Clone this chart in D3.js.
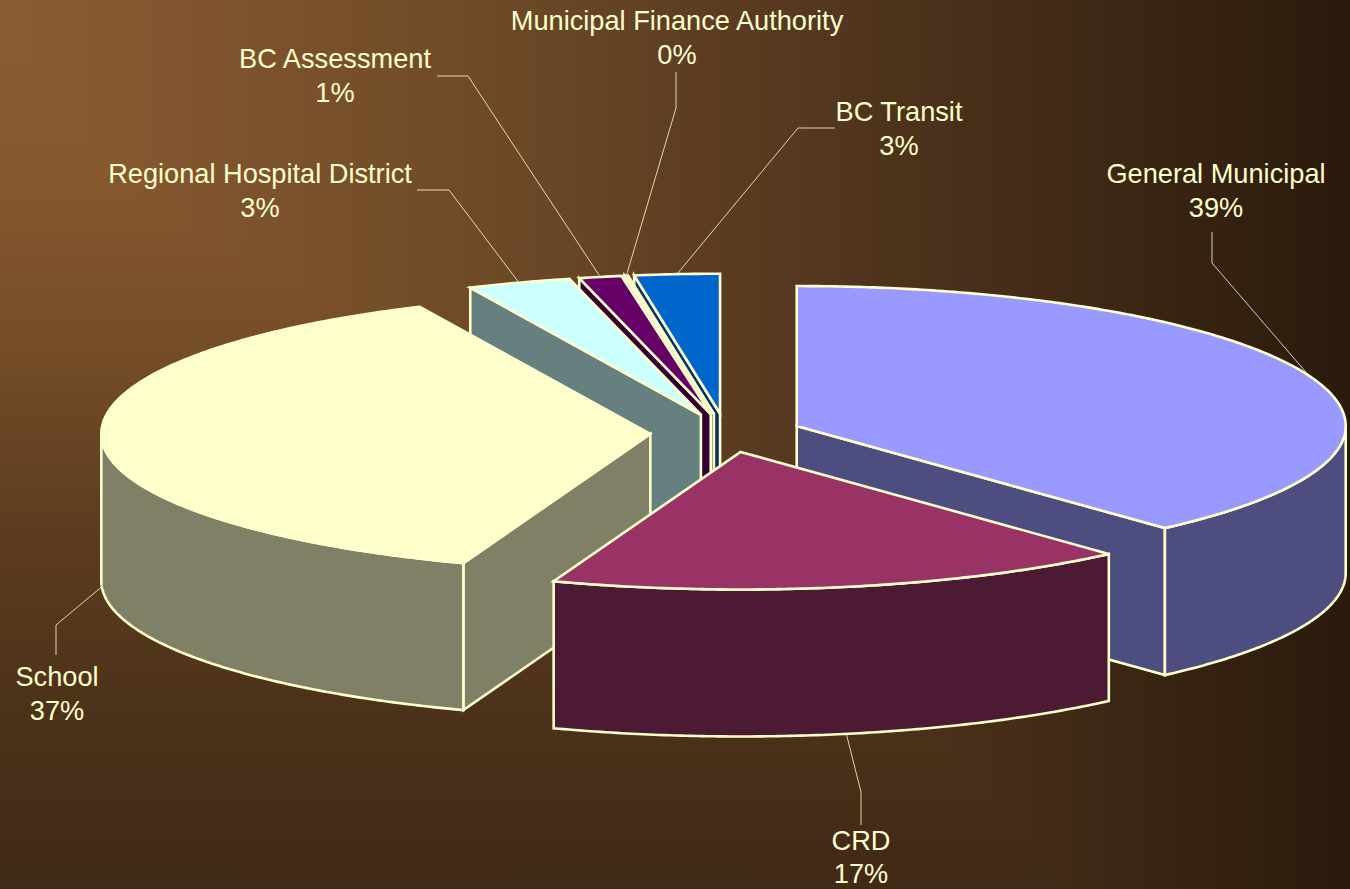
<!doctype html>
<html lang="en">

<head>
  <meta charset="utf-8">
  <title>Property tax distribution</title>
  <style>
    html, body {
      margin: 0;
      padding: 0;
      width: 1350px;
      height: 889px;
      overflow: hidden;
    }

    /* corner gradient: darken of a horizontal and a vertical ramp */
    body {
      background-image:
        linear-gradient(to right, rgb(140,92,50) 0%, rgb(112,75,40) 34%, rgb(85,56,32) 59%, rgb(70,45,24) 74%, rgb(42,26,12) 100%),
        linear-gradient(to bottom, rgb(140,92,50) 0%, rgb(134,88,46) 20%, rgb(116,76,40) 40%, rgb(92,60,32) 60%, rgb(76,50,26) 80%, rgb(64,41,22) 100%);
      background-blend-mode: darken;
    }

    svg {
      display: block;
    }

    .label {
      font: 27.2px "Liberation Sans", Arial, sans-serif;
      fill: #ffffcc;
      text-anchor: middle;
    }

    .leader {
      fill: none;
      stroke: #ffffcc;
      stroke-opacity: 0.8;
      stroke-width: 1px;
    }

    .face {
      stroke: #ffffcc;
      stroke-width: 2.6px;
      stroke-linejoin: miter;
    }
  </style>
  <script src="https://cdn.jsdelivr.net/npm/d3@7"></script>
</head>

<body>
  <svg width="1350" height="889"></svg>

  <script>
    // clockwise from 12 o'clock
    var categories = ["General Municipal", "CRD", "School", "Regional Hospital District", "BC Assessment", "Municipal Finance Authority", "BC Transit"];
    var shares = [38.3, 17.23, 37.57, 3.05, 1.25, 0.1, 2.5];
    var shownPercent = ["39%", "17%", "37%", "3%", "1%", "0%", "3%"];

    var topColors = ["#9999ff", "#993366", "#ffffcc", "#ccffff", "#660066", "#ffcc99", "#0066cc"];
    var sideColors = ["#4d4d80", "#4d1a33", "#808066", "#668080", "#330033", "#806650", "#003366"];

    // label centre x, first baseline y, and the elbow of the leader line
    var labelX = [1216, 861, 57, 260, 335, 677, 899];
    var labelY = [183, 849.5, 686, 183, 68, 30, 121];
    var leaderStart = [[1212, 232], [861, 825], [56, 655], [417, 190], [437, 76], [676, 72], [835, 128]];
    var leaderElbow = [[1212, 263], [861, 792], [56, 625], [449, 190], [468, 76], [676, 108], [798, 128]];

    var cx = 726, cy = 433,
      rx = 549,
      ryBack = 140, ryFront = 137.5, // the near half is a touch flatter in the original
      depth = 147,
      explode = 0.138,
      lineHeight = 33.5;

    var svg = d3.select("svg");

    var pie = d3.pie().sort(null).value(function (d) { return d; });
    var arcs = pie(shares);

    var line = d3.line();

    var slices = arcs.map(function (a, i) {
      var mid = (a.startAngle + a.endAngle) / 2;
      return {
        i: i,
        a0: a.startAngle,
        a1: a.endAngle,
        mid: mid,
        ox: cx + rx * explode * Math.sin(mid),
        oy: cy - ryBack * explode * Math.cos(mid)
      };
    });

    function rim(s, angle, drop) {
      var c = Math.cos(angle);
      return [s.ox + rx * Math.sin(angle), s.oy - (c > 0 ? ryBack : ryFront) * c + (drop || 0)];
    }

    function rimPoints(s, from, to, drop) {
      var n = Math.max(2, Math.ceil(Math.abs(to - from) / 0.01));
      return d3.range(n + 1).map(function (k) {
        return rim(s, from + (to - from) * k / n, drop);
      });
    }

    // flat side running from the apex to the rim
    function sideFace(s, angle) {
      return line([[s.ox, s.oy], rim(s, angle), rim(s, angle, depth), [s.ox, s.oy + depth]]) + "Z";
    }

    // only the stretch of the rim on the viewer's side has a wall
    function outerWall(s) {
      var from = Math.max(s.a0, Math.PI / 2),
        to = Math.min(s.a1, 3 * Math.PI / 2);
      if (to <= from) return null;
      return line(rimPoints(s, from, to, 0).concat(rimPoints(s, to, from, depth))) + "Z";
    }

    function topFace(s) {
      return line([[s.ox, s.oy]].concat(rimPoints(s, s.a0, s.a1, 0))) + "Z";
    }

    // back to front
    var drawOrder = [6, 5, 4, 3, 2, 0, 1];

    var groups = svg.selectAll("g.slice")
      .data(drawOrder.map(function (i) { return slices[i]; }))
      .enter().append("g")
      .attr("class", "slice");

    groups.each(function (s) {
      var g = d3.select(this);
      var side = sideColors[s.i];

      if (Math.sin(s.a0) < 0) {
        g.append("path").attr("class", "face").attr("fill", side).attr("d", sideFace(s, s.a0));
      }
      if (Math.sin(s.a1) > 0) {
        g.append("path").attr("class", "face").attr("fill", side).attr("d", sideFace(s, s.a1));
      }
      var wall = outerWall(s);
      if (wall) {
        g.append("path").attr("class", "face").attr("fill", side).attr("d", wall);
      }
      g.append("path").attr("class", "face").attr("fill", topColors[s.i]).attr("d", topFace(s));
    });

    // leader lines end on the rim at the middle of each slice
    svg.selectAll("path.leader")
      .data(slices)
      .enter().append("path")
      .attr("class", "leader")
      .attr("d", function (s) {
        var front = Math.cos(s.mid) < 0 || s.i === 2;
        return line([leaderStart[s.i], leaderElbow[s.i], rim(s, s.mid, front ? depth : 0)]);
      });

    var labels = svg.selectAll("text.label")
      .data(slices)
      .enter().append("text")
      .attr("class", "label")
      .attr("y", function (s) { return labelY[s.i]; });

    labels.append("tspan")
      .attr("x", function (s) { return labelX[s.i]; })
      .text(function (s) { return categories[s.i]; });

    labels.append("tspan")
      .attr("x", function (s) { return labelX[s.i]; })
      .attr("dy", lineHeight)
      .text(function (s) { return shownPercent[s.i]; });
  </script>
</body>

</html>
